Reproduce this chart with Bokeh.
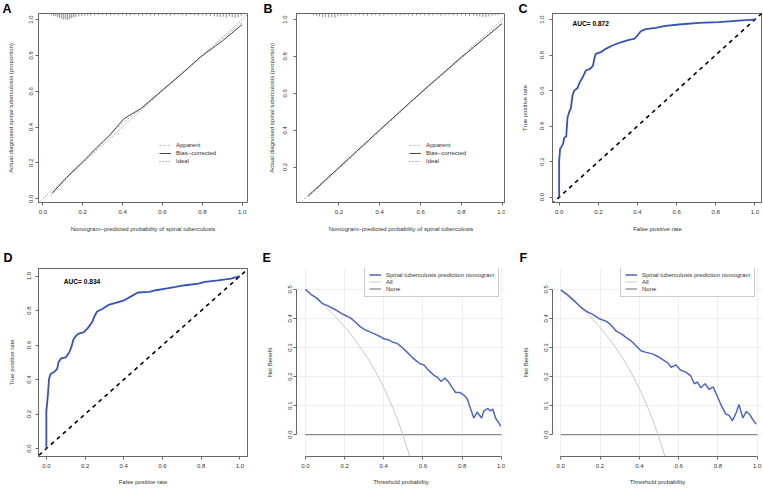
from bokeh.plotting import figure
from bokeh.layouts import gridplot
from bokeh.models import (Range1d, FixedTicker, NumeralTickFormatter, Label,
                          Legend, LegendItem)
from bokeh.embed import file_html
from bokeh.resources import INLINE

FONT = "Liberation Sans"
SMALL = "6px"
TXT = "#333333"
AXC = "#666666"
BLUE_ROC = "#3652b5"
BLUE_DCA = "#4e66c2"

# ---------------- data ----------------
ticks01 = [0.0, 0.2, 0.4, 0.6, 0.8, 1.0]
ticksB = [0.2, 0.4, 0.6, 0.8, 1.0]
ticks_nb = [0.0, 0.1, 0.2, 0.3, 0.4, 0.5]
ideal = [-0.1, 1.1]

# Panel A calibration (training)
calA_bias_x = [0.047, 0.12, 0.2, 0.27, 0.34, 0.406, 0.49, 0.607, 0.70, 0.79, 0.90, 1.0]
calA_bias_y = [0.031, 0.12, 0.206, 0.285, 0.36, 0.446, 0.502, 0.613, 0.70, 0.79, 0.88, 0.972]
calA_app_x = [0.04, 0.12, 0.2, 0.28, 0.36, 0.42, 0.5, 0.6, 0.7, 0.8, 0.9, 1.0]
calA_app_y = [0.02, 0.115, 0.2, 0.29, 0.385, 0.44, 0.505, 0.605, 0.705, 0.80, 0.895, 0.985]
rugA_x = [0.045, 0.055, 0.065, 0.075, 0.085, 0.095, 0.105, 0.115, 0.125, 0.135,
          0.145, 0.155, 0.165, 0.18, 0.195, 0.21, 0.225, 0.24, 0.26, 0.28,
          0.30, 0.32, 0.34, 0.36, 0.38, 0.40, 0.42, 0.44, 0.46, 0.48,
          0.50, 0.52, 0.54, 0.56, 0.58, 0.60, 0.62, 0.64, 0.66, 0.68,
          0.70, 0.72, 0.74, 0.76, 0.78, 0.80, 0.82, 0.84, 0.86, 0.875,
          0.89, 0.905, 0.92, 0.935, 0.95, 0.965, 0.98, 0.995]
rugA_len = [0.010, 0.014, 0.016, 0.020, 0.024, 0.030, 0.034, 0.032, 0.036, 0.030,
            0.026, 0.022, 0.018, 0.016, 0.014, 0.012, 0.010, 0.012, 0.010, 0.008,
            0.010, 0.012, 0.010, 0.008, 0.010, 0.008, 0.012, 0.010, 0.008, 0.010,
            0.012, 0.008, 0.010, 0.012, 0.010, 0.008, 0.010, 0.012, 0.010, 0.008,
            0.010, 0.012, 0.008, 0.010, 0.012, 0.010, 0.012, 0.014, 0.016, 0.018,
            0.020, 0.018, 0.022, 0.016, 0.020, 0.024, 0.020, 0.012]

# Panel B calibration (validation)
calB_bias_x = [0.05, 0.2, 0.4, 0.6, 0.8, 1.0]
calB_bias_y = [0.045, 0.198, 0.402, 0.603, 0.795, 0.978]
calB_app_x = [0.05, 0.2, 0.4, 0.6, 0.8, 1.0]
calB_app_y = [0.04, 0.19, 0.395, 0.598, 0.792, 0.985]
rugB_x = [0.075, 0.09, 0.105, 0.12, 0.135, 0.15, 0.165, 0.18, 0.195, 0.21,
          0.225, 0.24, 0.26, 0.28, 0.30, 0.32, 0.34, 0.36, 0.38, 0.40,
          0.42, 0.44, 0.46, 0.48, 0.50, 0.52, 0.54, 0.56, 0.58, 0.60,
          0.62, 0.64, 0.66, 0.68, 0.70, 0.72, 0.74, 0.76, 0.78, 0.80,
          0.82, 0.84, 0.86, 0.875, 0.89, 0.905, 0.92, 0.935, 0.95, 0.965, 0.98]
rugB_len = [0.010, 0.012, 0.016, 0.020, 0.018, 0.022, 0.020, 0.024, 0.016, 0.014,
            0.012, 0.014, 0.010, 0.012, 0.008, 0.010, 0.012, 0.010, 0.008, 0.012,
            0.010, 0.008, 0.010, 0.012, 0.010, 0.008, 0.010, 0.012, 0.010, 0.008,
            0.010, 0.012, 0.010, 0.008, 0.012, 0.010, 0.008, 0.010, 0.012, 0.010,
            0.012, 0.014, 0.012, 0.014, 0.016, 0.018, 0.020, 0.016, 0.012, 0.010, 0.008]

# Panel C ROC (training)
rocC_fpr = [0.000, 0.000, 0.005, 0.010, 0.020, 0.026, 0.036, 0.043, 0.046, 0.054,
            0.060, 0.068, 0.077, 0.094, 0.105, 0.119, 0.136, 0.158, 0.173, 0.180,
            0.187, 0.213, 0.238, 0.272, 0.315, 0.357, 0.383, 0.400, 0.417, 0.442,
            0.493, 0.544, 0.612, 0.714, 0.816, 0.918, 1.000]
rocC_tpr = [0.000, 0.206, 0.272, 0.280, 0.300, 0.336, 0.340, 0.450, 0.460, 0.488,
            0.500, 0.572, 0.600, 0.615, 0.647, 0.672, 0.713, 0.722, 0.741, 0.780,
            0.807, 0.816, 0.835, 0.854, 0.872, 0.886, 0.891, 0.910, 0.934, 0.946,
            0.953, 0.964, 0.972, 0.981, 0.985, 0.994, 1.000]
aucC = "AUC= 0.872"

# Panel D ROC (validation)
rocD_fpr = [0.0, 0.0, 0.008, 0.014, 0.022, 0.042, 0.056, 0.0625, 0.076, 0.101,
            0.118, 0.13, 0.14, 0.152, 0.164, 0.194, 0.215, 0.236, 0.248, 0.262,
            0.287, 0.321, 0.363, 0.405, 0.44, 0.473, 0.532, 0.566, 0.617, 0.667,
            0.718, 0.785, 0.819, 0.887, 0.954, 1.0]
rocD_tpr = [0.0, 0.215, 0.31, 0.405, 0.433, 0.446, 0.462, 0.5, 0.523, 0.529,
            0.557, 0.591, 0.633, 0.652, 0.665, 0.675, 0.70, 0.732, 0.766, 0.795,
            0.808, 0.833, 0.846, 0.861, 0.884, 0.905, 0.909, 0.918, 0.928, 0.937,
            0.947, 0.956, 0.966, 0.975, 0.985, 1.0]
aucD = "AUC= 0.834"

# Panel E decision curve (training)
dcaE_thr = [0.0, 0.026, 0.06, 0.085, 0.11, 0.153, 0.179, 0.204, 0.23, 0.256,
            0.281, 0.307, 0.332, 0.358, 0.383, 0.4, 0.426, 0.443, 0.468, 0.494,
            0.52, 0.545, 0.571, 0.588, 0.605, 0.622, 0.639, 0.656, 0.673, 0.693,
            0.712, 0.729, 0.75, 0.767, 0.789, 0.809, 0.826, 0.843, 0.86, 0.877,
            0.9, 0.911, 0.932, 0.945, 0.957, 0.971, 0.988, 0.997]
dcaE_nb = [0.5, 0.484, 0.469, 0.452, 0.445, 0.43, 0.419, 0.41, 0.402, 0.387,
           0.371, 0.36, 0.353, 0.345, 0.337, 0.33, 0.326, 0.319, 0.314, 0.3,
           0.283, 0.266, 0.251, 0.243, 0.24, 0.226, 0.215, 0.204, 0.198, 0.183,
           0.195, 0.183, 0.161, 0.145, 0.145, 0.136, 0.124, 0.09, 0.057, 0.077,
           0.057, 0.081, 0.09, 0.081, 0.088, 0.057, 0.04, 0.028]
allE_thr = [0.0, 0.025, 0.05, 0.075, 0.1, 0.125, 0.15, 0.175, 0.2, 0.225, 0.25, 0.275,
            0.3, 0.325, 0.35, 0.375, 0.4, 0.425, 0.45, 0.475, 0.5, 0.525, 0.55]
allE_nb = [0.497, 0.484, 0.471, 0.456, 0.441, 0.425, 0.408, 0.390, 0.371, 0.351, 0.329, 0.306,
           0.281, 0.255, 0.226, 0.195, 0.162, 0.125, 0.086, 0.042, -0.006, -0.059, -0.118]

# Panel F decision curve (validation)
dcaF_thr = [0.0, 0.03, 0.064, 0.098, 0.132, 0.165, 0.199, 0.233, 0.258, 0.283,
            0.309, 0.334, 0.359, 0.384, 0.41, 0.435, 0.469, 0.494, 0.519, 0.545,
            0.562, 0.587, 0.612, 0.637, 0.663, 0.68, 0.696, 0.713, 0.735, 0.755,
            0.776, 0.798, 0.82, 0.84, 0.857, 0.874, 0.894, 0.907, 0.927, 0.944,
            0.961, 0.978, 0.995]
dcaF_nb = [0.498, 0.484, 0.464, 0.441, 0.424, 0.413, 0.398, 0.39, 0.376, 0.356,
           0.347, 0.334, 0.322, 0.305, 0.288, 0.283, 0.277, 0.269, 0.258, 0.247,
           0.232, 0.24, 0.221, 0.215, 0.201, 0.175, 0.181, 0.161, 0.175, 0.156,
           0.164, 0.13, 0.096, 0.071, 0.066, 0.048, 0.077, 0.104, 0.057, 0.079,
           0.07, 0.051, 0.036]
allF_thr = [0.0, 0.025, 0.05, 0.075, 0.1, 0.125, 0.15, 0.175, 0.2, 0.225, 0.25, 0.275,
            0.3, 0.325, 0.35, 0.375, 0.4, 0.425, 0.45, 0.475, 0.5, 0.525, 0.55]
allF_nb = [0.495, 0.482, 0.468, 0.454, 0.439, 0.423, 0.406, 0.388, 0.369, 0.348, 0.327, 0.304,
           0.279, 0.252, 0.223, 0.192, 0.158, 0.122, 0.082, 0.038, -0.010, -0.063, -0.122]
none_thr = [0.0, 1.0]
none_nb = [0.0, 0.0]

dca_labels = ["Spinal tuberculosis prediction nomogram", "All", "None"]
cal_labels = ["Apparent", "Bias\u2212corrected", "Ideal"]

ROW1_H, ROW2_H = 240, 247
COL_W = [250, 255, 257]


# ---------------- helpers ----------------
def make_fig(w, h, xr, yr, bl, br, bt, bb, letter_txt, letter_off, letter_standoff, box=True):
    p = figure(width=w, height=h, x_range=Range1d(*xr), y_range=Range1d(*yr),
               output_backend="svg", toolbar_location=None,
               min_border_left=bl, min_border_right=br,
               min_border_top=bt, min_border_bottom=bb)
    p.background_fill_color = "white"
    p.border_fill_color = "white"
    p.xgrid.visible = False
    p.ygrid.visible = False
    p.outline_line_color = AXC if box else None
    t = p.title
    t.text = letter_txt
    t.text_font = FONT
    t.text_font_size = "12.5px"
    t.text_font_style = "bold"
    t.text_color = "black"
    t.align = "left"
    t.vertical_align = "bottom"
    t.offset = letter_off
    t.standoff = letter_standoff
    return p


def style_axis(ax, ticks, label, tick_standoff, label_standoff, vertical=False, bounds=None):
    ax.ticker = FixedTicker(ticks=ticks)
    ax.formatter = NumeralTickFormatter(format="0.0")
    ax.axis_label = label
    ax.axis_label_text_font = FONT
    ax.axis_label_text_font_size = SMALL
    ax.axis_label_text_font_style = "normal"
    ax.axis_label_text_color = TXT
    ax.axis_label_standoff = label_standoff
    ax.major_label_text_font = FONT
    ax.major_label_text_font_size = SMALL
    ax.major_label_text_color = TXT
    ax.major_label_standoff = tick_standoff
    ax.major_tick_in = 0
    ax.major_tick_out = 3
    ax.major_tick_line_color = AXC
    ax.minor_tick_line_color = None
    ax.axis_line_color = AXC
    if vertical:
        ax.major_label_orientation = "vertical"
    if bounds is not None:
        ax.bounds = bounds


def cal_panel(w, xr, yr, bl, br, bias_x, bias_y, app_x, app_y, rug_x, rug_len,
              xticks, yticks, leg_x, let_txt, let_x, y_std, y_lstd):
    p = make_fig(w, ROW1_H, xr, yr, bl, br, 13, 38, let_txt, let_x, -5)
    style_axis(p.xaxis[0], xticks, "Nomogram\u2212predicted probability of spinal tuberculosis", 4, 9)
    style_axis(p.yaxis[0], yticks, "Actual diagnosed spinal tuberculosis (proportion)", y_std, y_lstd, vertical=True)
    top = yr[1]
    p.segment(x0=rug_x, y0=[top] * len(rug_x), x1=rug_x, y1=[top - v for v in rug_len],
              line_color="#8a8a8a", line_width=1)
    r_ideal = p.line(ideal, ideal, line_color="#777777", line_width=1, line_dash="1 2")
    r_app = p.line(app_x, app_y, line_color="#b0b0b0", line_width=1, line_dash="2 2")
    r_bias = p.line(bias_x, bias_y, line_color="#444444", line_width=1)
    leg = Legend(items=[LegendItem(label=cal_labels[0], renderers=[r_app]),
                        LegendItem(label=cal_labels[1], renderers=[r_bias]),
                        LegendItem(label=cal_labels[2], renderers=[r_ideal])],
                 location=(leg_x, 37), padding=0, margin=0, spacing=0,
                 glyph_width=12, glyph_height=8, label_height=8, label_standoff=5,
                 label_text_font=FONT, label_text_font_size=SMALL, label_text_color=TXT,
                 border_line_color=None, background_fill_alpha=0)
    p.add_layout(leg)
    return p


def roc_panel(w, h, xr, yr, bl, br, bt, bb, fpr, tpr, auc, auc_x, auc_y,
              let_txt, let_x, let_so, x_std, x_lstd, y_std, y_lstd):
    p = make_fig(w, h, xr, yr, bl, br, bt, bb, let_txt, let_x, let_so)
    style_axis(p.xaxis[0], ticks01, "False positive rate", x_std, x_lstd)
    style_axis(p.yaxis[0], ticks01, "True positive rate", y_std, y_lstd, vertical=True)
    p.line(ideal, ideal, line_color="black", line_width=1.6, line_dash="4 4")
    p.line(fpr, tpr, line_color=BLUE_ROC, line_width=1.8)
    p.add_layout(Label(x=auc_x, y=auc_y, text=auc, text_font=FONT, text_font_size="6.6px",
                       text_font_style="bold", text_color="black",
                       text_baseline="middle", text_align="left"))
    return p


def dca_panel(w, xr, bl, br, thr, nb, all_thr, all_nb, let_txt, let_x, leg_x):
    p = make_fig(w, ROW2_H, xr, (-0.0756, 0.572), bl, br, 28, 30,
                 let_txt, let_x, 7, box=False)
    style_axis(p.xaxis[0], ticks01, "Threshold probability", 4, 8, bounds=(0, 1))
    style_axis(p.yaxis[0], ticks_nb, "Net Benefit", 1, 13, vertical=True, bounds=(0, 0.5))
    p.xgrid.visible = True
    p.ygrid.visible = True
    p.xgrid.grid_line_color = "#eeeeee"
    p.ygrid.grid_line_color = "#eeeeee"
    r_none = p.line(none_thr, none_nb, line_color="#888888", line_width=1.3)
    r_all = p.line(all_thr, all_nb, line_color="#c8c8c8", line_width=1)
    r_blue = p.line(thr, nb, line_color=BLUE_DCA, line_width=1.5)
    leg = Legend(items=[LegendItem(label=dca_labels[0], renderers=[r_blue]),
                        LegendItem(label=dca_labels[1], renderers=[r_all]),
                        LegendItem(label=dca_labels[2], renderers=[r_none])],
                 location=(leg_x, 159), padding=4, margin=0, spacing=0,
                 glyph_width=12, glyph_height=7, label_height=7, label_standoff=5,
                 label_text_font=FONT, label_text_font_size=SMALL, label_text_color=TXT,
                 border_line_color="#999999", border_line_width=1,
                 background_fill_color="white", background_fill_alpha=1)
    p.add_layout(leg)
    return p


# ---------------- panels ----------------
pA = cal_panel(COL_W[0], (-0.0216, 1.0266), (-0.0206, 1.0335), 38, 3,
               calA_bias_x, calA_bias_y, calA_app_x, calA_app_y, rugA_x, rugA_len,
               ticks01, ticks01, 121, "A", -36, 2, 13)
pB = cal_panel(COL_W[1], (-0.008, 1.016), (0.0087, 1.0325), 45, 0,
               calB_bias_x, calB_bias_y, calB_app_x, calB_app_y, rugB_x, rugB_len,
               ticksB, ticksB, 113, "B", -33, 6, 6)
pC = roc_panel(COL_W[2], ROW1_H, (-0.034, 1.039), (-0.030, 1.034), 47, 0, 13, 38,
               rocC_fpr, rocC_tpr, aucC, 0.068, 0.979, "C", -34, -5, 4, 9, 5, 10)
pD = roc_panel(COL_W[0], ROW2_H, (-0.0405, 1.039), (-0.0456, 1.044), 37, 0, 28, 30,
               rocD_fpr, rocD_tpr, aucD, 0.09, 0.971, "D", -35, 7, 4, 8, 4, 10)
pE = dca_panel(COL_W[1], (-0.046, 1.022), 46, 0, dcaE_thr, dcaE_nb, allE_thr, allE_nb, "E", -34, 68)
pF = dca_panel(COL_W[2], (-0.042, 1.027), 46, 0, dcaF_thr, dcaF_nb, allF_thr, allF_nb, "F", -33, 68)

grid = gridplot([[pA, pB, pC], [pD, pE, pF]], toolbar_location=None)

open("out.html", "w").write(file_html(grid, INLINE))
